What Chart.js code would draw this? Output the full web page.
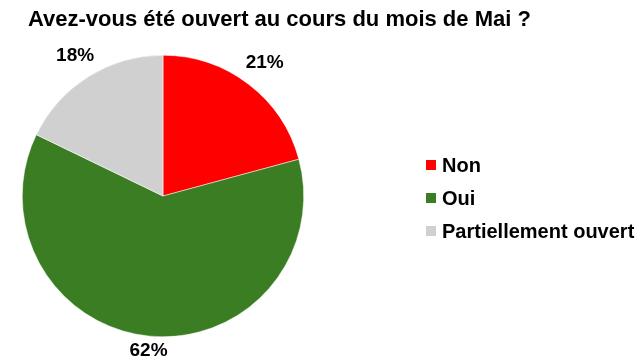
<!DOCTYPE html>
<html>
<head>
<meta charset="utf-8">
<script src="https://cdn.jsdelivr.net/npm/chart.js@4/dist/chart.umd.min.js"></script>
<style>
  html, body { margin:0; padding:0; background:#ffffff; }
  #wrap { width:640px; height:361px; position:relative; }
</style>
</head>
<body>
<div id="wrap"><canvas id="pieChart" width="640" height="361"></canvas></div>
<script>
// chart data
var titleText = "Avez-vous été ouvert au cours du mois de Mai ?";
var categories = ["Non", "Oui", "Partiellement ouvert"];
var percents = [21, 62, 18];
var sliceColors = ["#FF0000", "#3A7D22", "#D0D0D0"];

var FONT = "'Liberation Sans', Arial, sans-serif";

// ---------------------------
// Title, outside labels and legend
// ---------------------------
var decorPlugin = {
    id: "decor",
    afterDraw: function(chart){
        var ctx = chart.ctx;
        ctx.save();

        // title
        ctx.fillStyle = "#000000";
        ctx.font = "bold 22px " + FONT;
        ctx.textAlign = "left";
        ctx.textBaseline = "alphabetic";
        ctx.fillText(titleText, 28, 26);

        // percent labels just outside the slices
        var meta = chart.getDatasetMeta(0);
        ctx.font = "bold 19px " + FONT;
        ctx.textAlign = "center";
        ctx.textBaseline = "middle";
        for(var i=0; i<meta.data.length; i++){
            var arc = meta.data[i];
            var mid = (arc.startAngle + arc.endAngle) / 2;
            var extra = Math.abs(Math.cos(mid)) * 24 + 12;
            var r = arc.outerRadius + extra;
            ctx.fillText(percents[i] + "%", arc.x + Math.cos(mid) * r, arc.y + Math.sin(mid) * r);
        }

        // legend
        ctx.textAlign = "left";
        ctx.font = "bold 20px " + FONT;
        for(var i=0; i<categories.length; i++){
            var y = 165 + i * 33;
            ctx.fillStyle = sliceColors[i];
            ctx.fillRect(426, y - 5, 10, 10);
            ctx.fillStyle = "#000000";
            ctx.fillText(categories[i], 442, y + 1);
        }
        ctx.restore();
    }
};

new Chart(document.getElementById("pieChart"), {
    type: "pie",
    data: {
        labels: categories,
        datasets: [{
            data: percents,
            backgroundColor: sliceColors,
            borderColor: "#ffffff",
            borderWidth: 0.5
        }]
    },
    options: {
        responsive: false,
        animation: false,
        layout: {
            padding: { top: 55, bottom: 24, left: 22, right: 336 }
        },
        plugins: {
            legend: { display: false },
            tooltip: { enabled: false }
        }
    },
    plugins: [decorPlugin]
});
</script>
</body>
</html>
